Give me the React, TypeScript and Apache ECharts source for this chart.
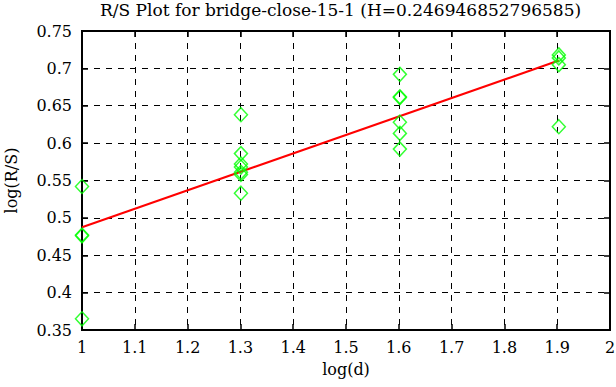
import React, { useEffect, useRef } from "react";
import * as echarts from "echarts";

const titleText = "R/S Plot for bridge-close-15-1 (H=0.246946852796585)";
const xName = "log(d)";
const yName = "log(R/S)";

const xs1 = [1, 1, 1, 1];
const ys1 = [0.542, 0.477, 0.476, 0.365];
const xs2 = [1.30103, 1.30103, 1.30103, 1.30103, 1.30103, 1.30103, 1.30103];
const ys2 = [0.638, 0.586, 0.572, 0.568, 0.561, 0.558, 0.533];
const xs3 = [1.60206, 1.60206, 1.60206, 1.60206, 1.60206, 1.60206];
const ys3 = [0.692, 0.662, 0.661, 0.628, 0.613, 0.592];
const xs4 = [1.90309, 1.90309, 1.90309, 1.90309];
const ys4 = [0.718, 0.714, 0.705, 0.622];

const hurst = 0.246946852796585;
const fitIntercept = 0.2405;
const fitX = [1, 1.90309];

const fmt = (v: number) => String(parseFloat(v.toFixed(2)));

export default function App() {
  const ref = useRef<HTMLDivElement>(null);
  useEffect(() => {
    if (!ref.current) return;
    const chart = echarts.init(ref.current, null, { renderer: "svg" });
    const pts: number[][] = [];
    [[xs1, ys1], [xs2, ys2], [xs3, ys3], [xs4, ys4]].forEach(([xa, ya]) => {
      xa.forEach((x, i) => pts.push([x, ya[i]]));
    });
    const fit = fitX.map((x) => [x, hurst * x + fitIntercept]);
    const font = "DejaVu Serif";
    const tickStyle = { color: "#000", width: 1.5 };
    chart.setOption({
      animation: false,
      title: {
        text: titleText,
        left: 100,
        top: 1,
        padding: 0,
        textStyle: { fontFamily: font, fontSize: 17, fontWeight: "normal", color: "#000" },
      },
      grid: {
        left: 82,
        top: 31,
        right: 6,
        bottom: 57,
        containLabel: false,
        outerBoundsMode: "none",
        show: true,
        borderColor: "#000",
        borderWidth: 2,
      },
      xAxis: [
        {
          type: "value",
          min: 1,
          max: 2,
          interval: 0.1,
          name: xName,
          nameLocation: "middle",
          nameGap: 31,
          nameTextStyle: { fontFamily: font, fontSize: 16, color: "#000" },
          axisLine: { show: true, lineStyle: { color: "#000", width: 2 } },
          axisTick: { show: true, inside: true, length: 6, lineStyle: tickStyle },
          axisLabel: { formatter: fmt, fontFamily: font, fontSize: 16, color: "#000", margin: 9 },
          splitLine: { show: true, lineStyle: { color: "#000", type: [6, 6], width: 1 } },
        },
        {
          type: "value",
          position: "top",
          min: 1,
          max: 2,
          interval: 0.1,
          axisLine: { show: false },
          axisTick: { show: true, inside: true, length: 6, lineStyle: tickStyle },
          axisLabel: { show: false },
          splitLine: { show: false },
        },
      ],
      yAxis: [
        {
          type: "value",
          min: 0.35,
          max: 0.75,
          interval: 0.05,
          name: yName,
          nameLocation: "middle",
          nameGap: 63,
          nameTextStyle: { fontFamily: font, fontSize: 16, color: "#000" },
          axisLine: { show: true, lineStyle: { color: "#000", width: 2 } },
          axisTick: { show: true, inside: true, length: 6, lineStyle: tickStyle },
          axisLabel: { formatter: fmt, fontFamily: font, fontSize: 16, color: "#000", margin: 10 },
          splitLine: { show: true, lineStyle: { color: "#000", type: [6, 6], width: 1 } },
        },
        {
          type: "value",
          position: "right",
          min: 0.35,
          max: 0.75,
          interval: 0.05,
          axisLine: { show: false },
          axisTick: { show: true, inside: true, length: 6, lineStyle: tickStyle },
          axisLabel: { show: false },
          splitLine: { show: false },
        },
      ],
      series: [
        {
          type: "line",
          data: fit,
          showSymbol: false,
          symbol: "none",
          lineStyle: { color: "#ff0000", width: 2 },
          z: 3,
        },
        {
          type: "scatter",
          data: pts,
          symbol: "diamond",
          symbolSize: [13, 14],
          itemStyle: { color: "rgba(0,0,0,0)", borderColor: "#00ff00", borderWidth: 1.5 },
          z: 4,
        },
      ],
    });
    return () => chart.dispose();
  }, []);
  return (
    <div
      ref={ref}
      style={{ position: "absolute", left: 0, top: 0, width: 616, height: 387 }}
    />
  );
}
